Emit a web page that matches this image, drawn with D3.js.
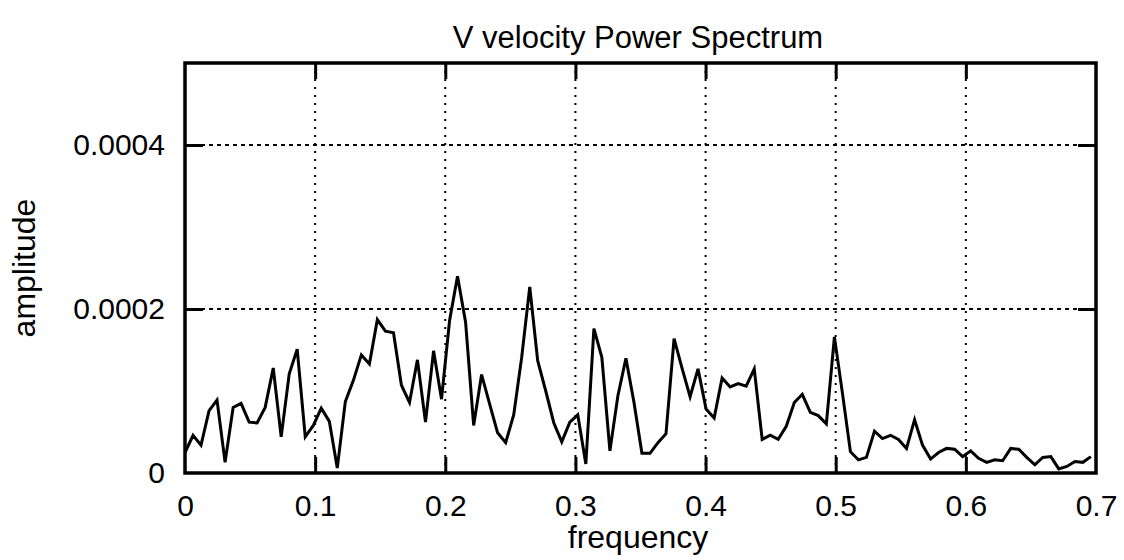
<!doctype html>
<html lang="en">
	<head>
		<meta charset="utf-8">
		<title>V velocity Power Spectrum</title>
		<style>
			body { margin: 0; background: #fff; }
			text { font-family: "Liberation Sans", Arial, Helvetica, sans-serif; fill: #000; }
			.axis path { display: none; }
			.axis line { stroke: #000; stroke-width: 3; }
			.axis text { font-size: 30px; }
		</style>
	</head>
	<body>
		<div id="chart"></div>

		<script src="https://cdnjs.cloudflare.com/ajax/libs/d3/7.8.5/d3.min.js"></script>
		<script>
			// frequency bins
			var freq = [0, .0062, .0123, .0185, .0246, .0308, .0370, .0431, .0493, .0554,
				.0616, .0678, .0739, .0801, .0862, .0924, .0986, .1047, .1109, .1170,
				.1232, .1294, .1355, .1417, .1478, .1540, .1602, .1663, .1725, .1786,
				.1848, .1910, .1971, .2033, .2094, .2156, .2218, .2279, .2341, .2402,
				.2464, .2526, .2587, .2649, .2710, .2772, .2834, .2895, .2957, .3018,
				.3080, .3142, .3203, .3265, .3326, .3388, .3450, .3511, .3573, .3634,
				.3696, .3758, .3819, .3881, .3942, .4004, .4066, .4127, .4189, .4250,
				.4312, .4374, .4435, .4497, .4558, .4620, .4682, .4743, .4805, .4866,
				.4928, .4990, .5051, .5113, .5174, .5236, .5298, .5359, .5421, .5482,
				.5544, .5606, .5667, .5729, .5790, .5852, .5914, .5975, .6037, .6098,
				.6160, .6222, .6283, .6345, .6406, .6468, .6530, .6591, .6653, .6714,
				.6776, .6838, .6899, .6961];
			// amplitude, in units of 1e-4
			var amp = [0.25, 0.46, 0.34, 0.76, 0.89, 0.13, 0.80, 0.85, 0.62, 0.61,
				0.80, 1.28, 0.44, 1.21, 1.51, 0.44, 0.58, 0.79, 0.63, 0.06,
				0.87, 1.13, 1.44, 1.33, 1.87, 1.73, 1.71, 1.07, 0.86, 1.38,
				0.62, 1.49, 0.90, 1.86, 2.40, 1.84, 0.58, 1.20, 0.84, 0.49,
				0.37, 0.71, 1.41, 2.27, 1.37, 1.00, 0.61, 0.38, 0.62, 0.71,
				0.11, 1.76, 1.41, 0.27, 0.94, 1.40, 0.86, 0.24, 0.24, 0.37,
				0.48, 1.64, 1.28, 0.93, 1.27, 0.78, 0.67, 1.16, 1.05, 1.09,
				1.06, 1.27, 0.41, 0.46, 0.41, 0.57, 0.86, 0.96, 0.74, 0.70,
				0.60, 1.66, 0.98, 0.26, 0.16, 0.19, 0.51, 0.42, 0.46, 0.41,
				0.30, 0.65, 0.34, 0.17, 0.25, 0.30, 0.29, 0.20, 0.27, 0.18,
				0.13, 0.16, 0.15, 0.30, 0.29, 0.19, 0.10, 0.19, 0.20, 0.05,
				0.08, 0.14, 0.13, 0.20];
			var xTicks = [0, 0.1, 0.2, 0.3, 0.4, 0.5, 0.6, 0.7];
			var yTicks = [0, 0.0002, 0.0004];

			(function() {
				var width = 1124, height = 560;
				var mLeft = 185, mRight = 1096, mTop = 63, mBottom = 473;
				var fmt = function(d) { return String(d); };

				var svg = d3.select("#chart").append("svg")
					.attr("width", width)
					.attr("height", height);

				var x = d3.scaleLinear().domain([0, 0.7]).range([mLeft, mRight]);
				var y = d3.scaleLinear().domain([0, 0.0005]).range([mBottom, mTop]);

				// grid
				svg.append("g").selectAll("line")
					.data(xTicks.slice(1, -1))
					.enter().append("line")
					.attr("x1", function(d) { return x(d); })
					.attr("x2", function(d) { return x(d); })
					.attr("y1", mTop).attr("y2", mBottom)
					.attr("stroke", "#000")
					.attr("stroke-width", 2)
					.attr("stroke-dasharray", "2,6");
				svg.append("g").selectAll("line")
					.data(yTicks.slice(1))
					.enter().append("line")
					.attr("x1", mLeft).attr("x2", mRight)
					.attr("y1", function(d) { return y(d); })
					.attr("y2", function(d) { return y(d); })
					.attr("stroke", "#000")
					.attr("stroke-width", 2)
					.attr("stroke-dasharray", "4,4");

				// axes, ticks pointing inward
				svg.append("g")
					.attr("class", "axis")
					.attr("transform", "translate(0," + mBottom + ")")
					.call(d3.axisBottom(x).tickValues(xTicks).tickSize(-16).tickPadding(22).tickFormat(fmt))
					.selectAll(".tick line")
					.filter(function(d) { return d === 0 || d === 0.7; }).remove();
				svg.append("g")
					.attr("class", "axis")
					.attr("transform", "translate(0," + mTop + ")")
					.call(d3.axisTop(x).tickValues(xTicks.slice(1, -1)).tickSize(-16).tickFormat(""));
				svg.append("g")
					.attr("class", "axis")
					.attr("transform", "translate(" + mLeft + ",0)")
					.call(d3.axisLeft(y).tickValues(yTicks).tickSize(-18).tickPadding(20).tickFormat(fmt))
					.selectAll(".tick line")
					.filter(function(d) { return d === 0; }).remove();
				svg.append("g")
					.attr("class", "axis")
					.attr("transform", "translate(" + mRight + ",0)")
					.call(d3.axisRight(y).tickValues(yTicks.slice(1)).tickSize(-18).tickFormat(""));

				// frame
				svg.append("rect")
					.attr("x", mLeft).attr("y", mTop)
					.attr("width", mRight - mLeft).attr("height", mBottom - mTop)
					.attr("fill", "none")
					.attr("stroke", "#000")
					.attr("stroke-width", 3.5);

				// spectrum
				var line = d3.line()
					.x(function(d, i) { return x(freq[i]); })
					.y(function(d) { return y(d * 1e-4); });
				svg.append("path")
					.datum(amp)
					.attr("d", line)
					.attr("fill", "none")
					.attr("stroke", "#000")
					.attr("stroke-width", 3);

				// labels
				svg.append("text")
					.attr("x", 638).attr("y", 48)
					.attr("text-anchor", "middle")
					.style("font-size", "31px")
					.text("V velocity Power Spectrum");
				svg.append("text")
					.attr("x", 638).attr("y", 548)
					.attr("text-anchor", "middle")
					.style("font-size", "32px")
					.text("frequency");
				svg.append("text")
					.attr("transform", "translate(35,268) rotate(-90)")
					.attr("text-anchor", "middle")
					.style("font-size", "32px")
					.text("amplitude");
			})();
		</script>
	</body>
</html>
